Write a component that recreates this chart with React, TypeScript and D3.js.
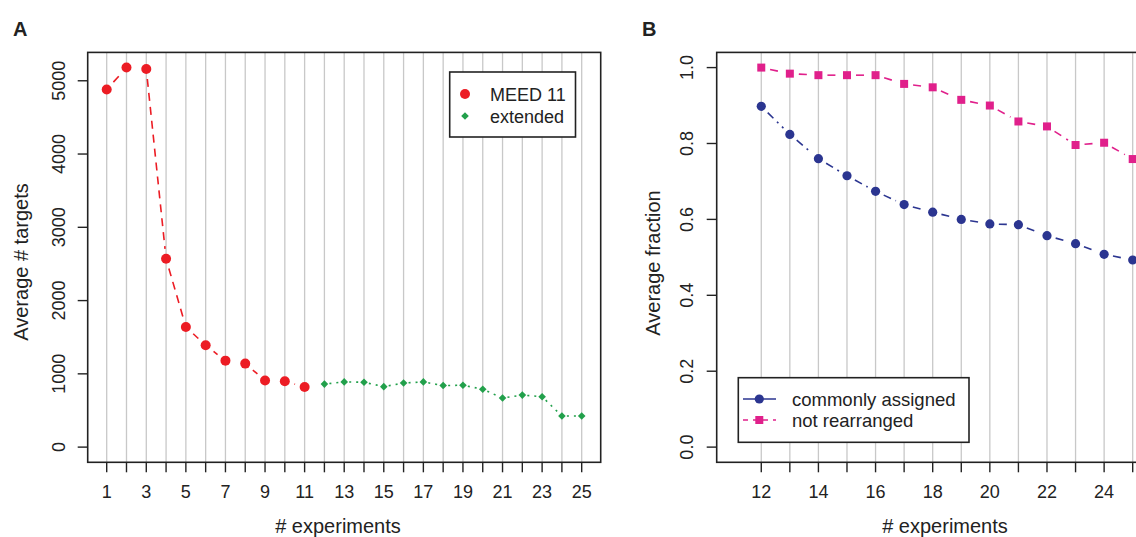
import React from "react";
import * as d3 from "d3";

// panel A: average number of targets vs number of experiments
const meedX = [1, 2, 3, 4, 5, 6, 7, 8, 9, 10, 11];
const meedY = [4880, 5180, 5160, 2570, 1640, 1390, 1180, 1140, 910, 900, 820];
const extX = [12, 13, 14, 15, 16, 17, 18, 19, 20, 21, 22, 23, 24, 25];
const extY = [860, 890, 885, 825, 875, 890, 840, 845, 790, 670, 710, 688, 425, 425];
const aXTicks = d3.range(1, 26);
const aXLabels = [1, 3, 5, 7, 9, 11, 13, 15, 17, 19, 21, 23, 25];
const aYTicks = [0, 1000, 2000, 3000, 4000, 5000];

// panel B: average fraction vs number of experiments
const bX = [12, 13, 14, 15, 16, 17, 18, 19, 20, 21, 22, 23, 24, 25];
const commonY = [0.898, 0.824, 0.76, 0.715, 0.674, 0.639, 0.619, 0.6, 0.588, 0.586, 0.557, 0.536, 0.508, 0.493];
const notRearrY = [1.0, 0.984, 0.98, 0.98, 0.98, 0.957, 0.948, 0.915, 0.9, 0.858, 0.845, 0.796, 0.802, 0.759];
const bXTicks = d3.range(12, 26);
const bXLabels = [12, 14, 16, 18, 20, 22, 24];
const bYTicks = [0, 0.2, 0.4, 0.6, 0.8, 1.0];

const FONT = "'Liberation Sans', Arial, Helvetica, sans-serif";
const INK = "#222";
const GRID = "#c8c8c8";
const RED = "#ec1c24";
const GREEN = "#22a04b";
const BLUE = "#2b3590";
const PINK = "#e0208b";

const TOP = 52.4;
const BOTTOM = 462.3;

// R style type="b": segments with a gap around each point
const gapSegments = (pts: [number, number][], gap: number) => {
  const segs: [number, number, number, number][] = [];
  for (let i = 0; i < pts.length - 1; i++) {
    const [x0, y0] = pts[i];
    const [x1, y1] = pts[i + 1];
    const d = Math.hypot(x1 - x0, y1 - y0);
    if (d <= 2 * gap) continue;
    const ux = (x1 - x0) / d;
    const uy = (y1 - y0) / d;
    segs.push([x0 + ux * gap, y0 + uy * gap, x1 - ux * gap, y1 - uy * gap]);
  }
  return segs;
};

const Series = ({ pts, color, dash, shape, size, gap }: any) => (
  <g>
    {gapSegments(pts, gap).map((s, i) => (
      <line key={i} x1={s[0]} y1={s[1]} x2={s[2]} y2={s[3]} stroke={color} strokeWidth={1.6} strokeDasharray={dash} />
    ))}
    {pts.map((p: [number, number], i: number) => (
      <Marker key={i} x={p[0]} y={p[1]} color={color} shape={shape} size={size} />
    ))}
  </g>
);

const Marker = ({ x, y, color, shape, size }: any) => {
  if (shape === "circle") return <circle cx={x} cy={y} r={size} fill={color} />;
  if (shape === "square")
    return <rect x={x - size} y={y - size} width={size * 2} height={size * 2} fill={color} />;
  return (
    <path
      d={`M${x},${y - size}L${x + size},${y}L${x},${y + size}L${x - size},${y}Z`}
      fill={color}
    />
  );
};

const App = () => {
  // panel A scales (R's 4% axis padding)
  const xA = d3.scaleLinear().domain([0.04, 25.96]).range([87.7, 600.7]);
  const yA = d3.scaleLinear().domain([-207.2, 5387.2]).range([BOTTOM, TOP]);
  // panel B scales
  const xB = d3.scaleLinear().domain([10.44, 25.56]).range([716.7, 1148.7]);
  const yB = d3.scaleLinear().domain([-0.04, 1.04]).range([BOTTOM, TOP]);

  const meedPts = meedX.map((x, i) => [xA(x), yA(meedY[i])] as [number, number]);
  const extPts = extX.map((x, i) => [xA(x), yA(extY[i])] as [number, number]);
  const commonPts = bX.map((x, i) => [xB(x), yB(commonY[i])] as [number, number]);
  const notPts = bX.map((x, i) => [xB(x), yB(notRearrY[i])] as [number, number]);

  return (
    <svg
      width={1136}
      height={537}
      style={{ position: "absolute", left: 0, top: 0, background: "#fff" }}
      fontFamily={FONT}
    >
      <rect width={1136} height={537} fill="#fff" />

      {/* ---------- panel A ---------- */}
      <text x={13} y={36} fontSize={20} fontWeight="bold" fill={INK}>A</text>
      {aXTicks.map((t) => (
        <line key={t} x1={xA(t)} x2={xA(t)} y1={TOP} y2={BOTTOM} stroke={GRID} strokeWidth={1.3} />
      ))}
      <Series pts={meedPts} color={RED} dash="8 6" shape="circle" size={5} gap={10} />
      <Series pts={extPts} color={GREEN} dash="2 5" shape="diamond" size={3.8} gap={5} />
      <rect x={xA(0.04)} y={TOP} width={xA(25.96) - xA(0.04)} height={BOTTOM - TOP} fill="none" stroke={INK} strokeWidth={1.6} />
      {aXTicks.map((t) => (
        <line key={t} x1={xA(t)} x2={xA(t)} y1={BOTTOM} y2={BOTTOM + 10} stroke={INK} strokeWidth={1.4} />
      ))}
      {aXLabels.map((t) => (
        <text key={t} x={xA(t)} y={498} fontSize={18} textAnchor="middle" fill={INK}>{t}</text>
      ))}
      {aYTicks.map((t) => (
        <g key={t}>
          <line x1={xA(0.04) - 10} x2={xA(0.04)} y1={yA(t)} y2={yA(t)} stroke={INK} strokeWidth={1.4} />
          <text transform={`translate(65,${yA(t)}) rotate(-90)`} fontSize={18} textAnchor="middle" fill={INK}>{t}</text>
        </g>
      ))}
      <text x={338} y={533} fontSize={20} textAnchor="middle" fill={INK}># experiments</text>
      <text transform="translate(28,262) rotate(-90)" fontSize={20} textAnchor="middle" fill={INK}>Average # targets</text>

      {/* legend A */}
      <rect x={449.7} y={72} width={125.8} height={65} fill="#fff" stroke={INK} strokeWidth={1.6} />
      <Marker x={465} y={94} color={RED} shape="circle" size={5} />
      <Marker x={465} y={116} color={GREEN} shape="diamond" size={3.8} />
      <text x={490} y={100.5} fontSize={18} fill={INK}>MEED 11</text>
      <text x={490} y={122.5} fontSize={18} fill={INK}>extended</text>

      {/* ---------- panel B ---------- */}
      <text x={642} y={36} fontSize={20} fontWeight="bold" fill={INK}>B</text>
      {bXTicks.map((t) => (
        <line key={t} x1={xB(t)} x2={xB(t)} y1={TOP} y2={BOTTOM} stroke={GRID} strokeWidth={1.3} />
      ))}
      <Series pts={notPts} color={PINK} dash="8 6" shape="square" size={4} gap={9} />
      <Series pts={commonPts} color={BLUE} dash="8 5 2 5" shape="circle" size={4.6} gap={9} />
      <rect x={xB(10.44)} y={TOP} width={xB(25.56) - xB(10.44)} height={BOTTOM - TOP} fill="none" stroke={INK} strokeWidth={1.6} />
      {bXTicks.map((t) => (
        <line key={t} x1={xB(t)} x2={xB(t)} y1={BOTTOM} y2={BOTTOM + 10} stroke={INK} strokeWidth={1.4} />
      ))}
      {bXLabels.map((t) => (
        <text key={t} x={xB(t)} y={498} fontSize={18} textAnchor="middle" fill={INK}>{t}</text>
      ))}
      {bYTicks.map((t) => (
        <g key={t}>
          <line x1={xB(10.44) - 10} x2={xB(10.44)} y1={yB(t)} y2={yB(t)} stroke={INK} strokeWidth={1.4} />
          <text transform={`translate(693,${yB(t)}) rotate(-90)`} fontSize={18} textAnchor="middle" fill={INK}>{t.toFixed(1)}</text>
        </g>
      ))}
      <text x={945} y={533} fontSize={20} textAnchor="middle" fill={INK}># experiments</text>
      <text transform="translate(660,263) rotate(-90)" fontSize={20} textAnchor="middle" fill={INK}>Average fraction</text>

      {/* legend B */}
      <rect x={738.3} y={377.7} width={230.7} height={64.6} fill="#fff" stroke={INK} strokeWidth={1.6} />
      <line x1={743} x2={776} y1={399} y2={399} stroke={BLUE} strokeWidth={1.6} />
      <Marker x={759.3} y={399} color={BLUE} shape="circle" size={4.6} />
      <line x1={743} x2={776} y1={420} y2={420} stroke={PINK} strokeWidth={1.6} strokeDasharray="5 5" />
      <Marker x={759.3} y={420} color={PINK} shape="square" size={4} />
      <text x={792} y={405.5} fontSize={18.5} fill={INK}>commonly assigned</text>
      <text x={792} y={426.5} fontSize={18.5} fill={INK}>not rearranged</text>
    </svg>
  );
};

export default App;
